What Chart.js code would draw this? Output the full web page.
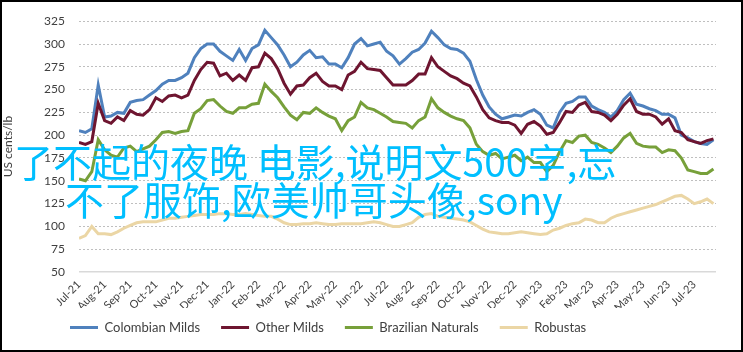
<!DOCTYPE html>
<html>
<head>
<meta charset="utf-8">
<script src="https://cdn.jsdelivr.net/npm/chart.js@4/dist/chart.umd.min.js"></script>
<style>
  body { margin: 0; background: #fff; }
  #wrap { position: relative; width: 743px; height: 352px; }
  #frame { position: absolute; left: 0; top: 0; width: 743px; height: 352px; box-sizing: border-box; border: 2px solid #000; pointer-events: none; }
  .over { position: absolute; font-family: "Noto Sans CJK SC"; font-size: 39px; line-height: 39px; color: #00bfff; white-space: pre; }
</style>
</head>
<body>
<div id="wrap">
  <canvas id="chart" width="743" height="352"></canvas>
  <div class="over" style="left:14px; top:141px">了不起的夜晚 电影,说明文500字,忘</div>
  <div class="over" style="left:65px; top:179px">不了服饰,欧美帅哥头像,sony</div>
  <div id="frame"></div>
</div>
<script>
// month ticks, one label per month
const monthLabels = ['Jul-21','Aug-21','Sep-21','Oct-21','Nov-21','Dec-21','Jan-22','Feb-22','Mar-22','Apr-22','May-22','Jun-22',
  'Jul-22','Aug-22','Sep-22','Oct-22','Nov-22','Dec-22','Jan-23','Feb-23','Mar-23','Apr-23','May-23','Jun-23','Jul-23']

// prices, US cents/lb, read about four times a month
const colombianMilds = [
  205,203,207,255,220,221,225,224,236,238,
  239,244,249,256,260,260,263,268,285,295,
  300,300,292,287,282,294,282,295,299,315,
  307,299,288,275,280,288,293,285,286,278,
  278,274,285,300,306,298,300,302,292,287,
  278,284,291,294,301,314,307,299,295,294,
  290,281,261,244,231,223,218,220,222,221,
  225,228,223,211,208,225,235,237,242,242,
  232,228,225,220,227,239,246,234,232,229,
  227,223,223,219,200,197,193,191,190,195]
const otherMilds = [
  192,190,193,235,216,213,220,216,227,223,
  222,228,241,237,243,244,241,244,260,272,
  280,279,265,268,260,266,260,274,275,290,
  284,273,257,245,254,255,263,268,259,254,
  254,250,266,270,280,273,272,271,263,255,
  255,255,260,267,267,285,275,270,265,262,
  257,254,242,228,219,216,214,214,211,202,
  212,215,210,201,203,214,226,225,233,236,
  226,225,222,216,223,233,240,226,223,223,
  220,212,218,205,203,195,193,191,194,196]
const brazilianNaturals = [
  152,150,160,195,184,178,176,186,188,182,
  185,188,195,203,204,202,204,205,224,229,
  238,239,232,226,224,230,230,234,235,256,
  248,241,231,222,217,225,224,230,225,221,
  218,205,216,220,236,230,228,224,220,215,
  214,213,208,216,220,240,230,225,221,218,
  216,208,190,182,178,180,174,176,178,172,
  176,170,170,160,167,182,194,192,199,200,
  192,190,186,181,188,197,202,191,188,187,
  187,181,184,183,175,162,160,158,158,163]
const robustas = [
  87,90,100,92,92,91,94,98,101,104,
  105,105,105,107,109,109,110,111,112,113,
  113,113,114,114,113,113,114,113,112,111,
  111,108,104,102,102,103,103,104,103,102,
  102,103,103,103,103,104,105,104,102,100,
  100,102,104,110,113,114,111,110,109,108,
  107,105,101,97,94,93,92,92,93,94,
  93,92,91,92,96,98,101,103,104,108,
  107,104,104,109,112,114,116,118,120,122,
  124,127,130,133,134,130,125,127,130,125]

const textColor = '#404040'
const chartFont = 'Lato'

function toPoints(values) {
  // four readings per month on the month axis
  return values.map((v, i) => ({ x: i / 4, y: v }))
}

function series(label, values, color) {
  return {
    label: label,
    data: toPoints(values),
    borderColor: color,
    backgroundColor: color,
    borderWidth: 3,
    pointRadius: 0,
    pointHoverRadius: 0,
    tension: 0,
  }
}

// excel draws the last series on top, chart.js the first one
const datasets = [
  series('Robustas', robustas, '#EBD6A5'),
  series('Brazilian Naturals', brazilianNaturals, '#77A03A'),
  series('Other Milds', otherMilds, '#6E1530'),
  series('Colombian Milds', colombianMilds, '#4F81BD'),
]

// the excel legend sits left of centre and a bit higher
const legendShift = {
  id: 'legendShift',
  afterLayout(chart) {
    chart.legend.left = 49
    chart.legend.top = chart.legend.top - 8
  }
}

new Chart(document.getElementById('chart'), {
  type: 'line',
  data: { datasets: datasets },
  plugins: [legendShift],
  options: {
    responsive: false,
    animation: false,
    layout: { padding: { top: 21, right: 27, bottom: 0, left: 0 } },
    plugins: {
      tooltip: { enabled: false },
      legend: {
        position: 'bottom',
        align: 'start',
        reverse: true,
        labels: {
          usePointStyle: true,
          pointStyle: 'line',
          pointStyleWidth: 28,
          padding: 21,
          color: textColor,
          font: { family: chartFont, size: 13 },
        },
      },
    },
    scales: {
      x: {
        type: 'linear',
        min: 0,
        max: 24.85,
        afterFit: (scale) => { scale.height = 36 },
        grid: { display: false, drawTicks: false },
        border: { display: false },
        ticks: {
          stepSize: 1,
          includeBounds: false,
          autoSkip: false,
          minRotation: 45,
          maxRotation: 45,
          padding: 6,
          color: textColor,
          font: { family: chartFont, size: 11 },
          callback: (value) => monthLabels[value],
        },
      },
      y: {
        min: 50,
        max: 325,
        afterFit: (scale) => { scale.width = 79 },
        grid: {
          drawTicks: false,
          color: (ctx) => ctx.tick && ctx.tick.value === 50 ? '#D9D9D9' : '#BFBFBF',
          lineWidth: (ctx) => ctx.tick && ctx.tick.value === 50 ? 1.5 : 1,
        },
        border: {
          display: false,
          dash: (ctx) => ctx.tick && ctx.tick.value === 50 ? [] : [2, 2],
        },
        ticks: {
          stepSize: 25,
          padding: 14,
          color: textColor,
          font: { family: chartFont, size: 12 },
        },
        title: {
          display: true,
          text: 'US cents/lb',
          color: textColor,
          font: { family: chartFont, size: 12 },
          padding: { top: 1, bottom: 0 },
        },
      },
    },
  },
})
</script>
</body>
</html>
